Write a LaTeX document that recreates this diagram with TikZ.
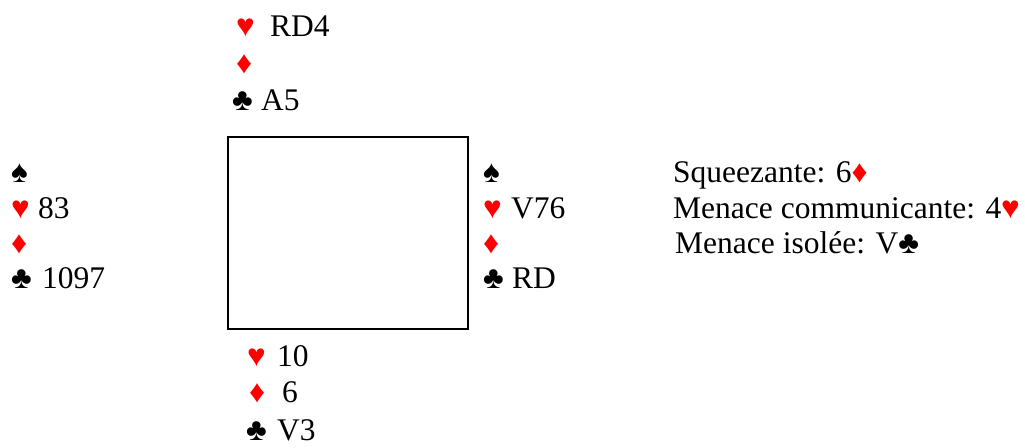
\documentclass[tikz,border=0pt]{standalone}
\usepackage{fontspec}
\setmainfont{Liberation Serif}
\definecolor{suitred}{RGB}{255,0,0}
\begin{document}
\begin{tikzpicture}[x=1pt,y=1pt,
  txt/.style={anchor=base west,inner sep=0pt,font=\fontsize{31.5}{36}\selectfont},
  rs/.style={txt,text=suitred},
  bs/.style={txt,text=black}]
\useasboundingbox (0,0) rectangle (1025,-447);
% table
\node[draw=black,line width=1.5pt,minimum width=240pt,minimum height=192pt,inner sep=0pt,anchor=north west] (table) at (227,-136) {};
% North
\node[rs] (nh) at (236,-36) {♥};
\node[txt] (nhr) at (270,-36) {RD4};
\node[rs] (nd) at (236,-73) {♦};
\node[bs] (nc) at (232,-110) {♣};
\node[txt] (ncr) at (261,-110) {A5};
% West
\node[bs] (ws) at (11,-182) {♠};
\node[rs] (wh) at (11,-218) {♥};
\node[txt] (whr) at (38,-218) {83};
\node[rs] (wd) at (11,-253) {♦};
\node[bs] (wc) at (11,-288) {♣};
\node[txt] (wcr) at (42,-288) {1097};
% East
\node[bs] (es) at (483,-182) {♠};
\node[rs] (eh) at (483,-218) {♥};
\node[txt] (ehr) at (511,-218) {V76};
\node[rs] (ed) at (483,-253) {♦};
\node[bs] (ec) at (483,-288) {♣};
\node[txt] (ecr) at (512,-288) {RD};
% South
\node[rs] (sh) at (247,-366) {♥};
\node[txt] (shr) at (277,-366) {10};
\node[rs] (sd) at (249,-402) {♦};
\node[txt] (sdr) at (282,-402) {6};
\node[bs] (sc) at (246,-440) {♣};
\node[txt] (scr) at (277,-440) {V3};
% Notes
\node[txt] (l1) at (673,-182) {Squeezante: 6\textcolor{suitred}{♦}};
\node[txt] (l2) at (673,-218) {Menace communicante: 4\textcolor{suitred}{♥}};
\node[txt] (l3) at (675,-253) {Menace isolée: V♣};
\end{tikzpicture}
\end{document}
